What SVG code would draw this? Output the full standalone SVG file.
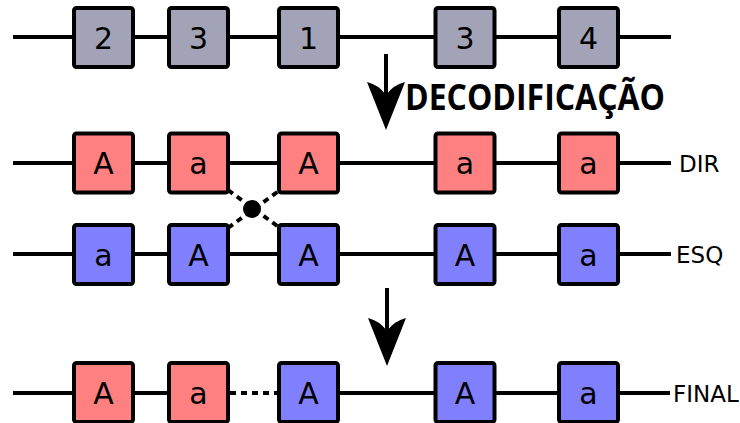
<svg xmlns="http://www.w3.org/2000/svg" width="740" height="423" viewBox="0 0 740 423">
  <style>
    .wire { stroke: #000; stroke-width: 4; fill: none; }
    .dash { stroke: #000; stroke-width: 4; fill: none; stroke-dasharray: 6 5; }
    .box { stroke: #000; stroke-width: 4; }
    .gray { fill: #a3a3b8; }
    .red { fill: #ff8080; }
    .blue { fill: #8080ff; }
    .lbl { font-family: "DejaVu Sans", Verdana, sans-serif; font-size: 30px; fill: #000; text-anchor: middle; }
    .side { font-family: "DejaVu Sans", Verdana, sans-serif; font-size: 23px; fill: #000; }
    .title { font-family: "Open Sans", "Liberation Sans", sans-serif; font-weight: bold; font-size: 35px; fill: #000; }
  </style>
  <defs>
    <rect id="cell" x="-29.5" y="-29.5" width="59" height="59" rx="2.5"/>
    <path id="head" d="M-19,0 Q-7,3 0,13 Q7,3 19,0 L0,48 Z"/>
  </defs>

  <!-- connectors: chromosome lines, crossover and arrows -->
  <g id="connectors">
    <line class="wire" x1="13" y1="37" x2="671" y2="37"/>
    <line class="wire" x1="13" y1="163" x2="671" y2="163"/>
    <line class="wire" x1="13" y1="254" x2="671" y2="254"/>
    <line class="wire" x1="13" y1="393" x2="228" y2="393"/>
    <line class="dash" x1="230" y1="393" x2="279" y2="393"/>
    <line class="wire" x1="279" y1="393" x2="670" y2="393"/>

    <line class="dash" x1="228" y1="190" x2="280" y2="228"/>
    <line class="dash" x1="228" y1="228" x2="280" y2="190"/>
    <circle cx="252" cy="209" r="9" fill="#000"/>

    <line class="wire" x1="386" y1="54" x2="386" y2="100"/>
    <use href="#head" x="386" y="82"/>
    <line class="wire" x1="387" y1="288" x2="387" y2="335"/>
    <use href="#head" x="387" y="318"/>
  </g>

  <!-- encoded chromosome -->
  <g id="n-top-1"><use href="#cell" x="103.5" y="37.5" class="box gray"/><text class="lbl" x="103.5" y="49">2</text></g>
  <g id="n-top-2"><use href="#cell" x="198.5" y="37.5" class="box gray"/><text class="lbl" x="198.5" y="49">3</text></g>
  <g id="n-top-3"><use href="#cell" x="308.5" y="37.5" class="box gray"/><text class="lbl" x="308.5" y="49">1</text></g>
  <g id="n-top-4"><use href="#cell" x="465" y="37.5" class="box gray"/><text class="lbl" x="465" y="49">3</text></g>
  <g id="n-top-5"><use href="#cell" x="588.5" y="37.5" class="box gray"/><text class="lbl" x="588.5" y="49">4</text></g>

  <text class="title" x="405" y="110" textLength="260" lengthAdjust="spacingAndGlyphs">DECODIFICAÇÃO</text>

  <!-- DIR strand -->
  <g id="n-dir-1"><use href="#cell" x="103.5" y="163" class="box red"/><text class="lbl" x="103.5" y="174">A</text></g>
  <g id="n-dir-2"><use href="#cell" x="198.5" y="163" class="box red"/><text class="lbl" x="198.5" y="174">a</text></g>
  <g id="n-dir-3"><use href="#cell" x="308.5" y="163" class="box red"/><text class="lbl" x="308.5" y="174">A</text></g>
  <g id="n-dir-4"><use href="#cell" x="465" y="163" class="box red"/><text class="lbl" x="465" y="174">a</text></g>
  <g id="n-dir-5"><use href="#cell" x="588.5" y="163" class="box red"/><text class="lbl" x="588.5" y="174">a</text></g>
  <text class="side" x="679" y="171.5">DIR</text>

  <!-- ESQ strand -->
  <g id="n-esq-1"><use href="#cell" x="103.5" y="254.5" class="box blue"/><text class="lbl" x="103.5" y="265.5">a</text></g>
  <g id="n-esq-2"><use href="#cell" x="198.5" y="254.5" class="box blue"/><text class="lbl" x="198.5" y="265.5">A</text></g>
  <g id="n-esq-3"><use href="#cell" x="308.5" y="254.5" class="box blue"/><text class="lbl" x="308.5" y="265.5">A</text></g>
  <g id="n-esq-4"><use href="#cell" x="465" y="254.5" class="box blue"/><text class="lbl" x="465" y="265.5">A</text></g>
  <g id="n-esq-5"><use href="#cell" x="588.5" y="254.5" class="box blue"/><text class="lbl" x="588.5" y="265.5">a</text></g>
  <text class="side" x="676" y="262.5">ESQ</text>

  <!-- FINAL strand -->
  <g id="n-fin-1"><use href="#cell" x="103.5" y="392.5" class="box red"/><text class="lbl" x="103.5" y="403.5">A</text></g>
  <g id="n-fin-2"><use href="#cell" x="198.5" y="392.5" class="box red"/><text class="lbl" x="198.5" y="403.5">a</text></g>
  <g id="n-fin-3"><use href="#cell" x="308.5" y="392.5" class="box blue"/><text class="lbl" x="308.5" y="403.5">A</text></g>
  <g id="n-fin-4"><use href="#cell" x="465" y="392.5" class="box blue"/><text class="lbl" x="465" y="403.5">A</text></g>
  <g id="n-fin-5"><use href="#cell" x="588.5" y="392.5" class="box blue"/><text class="lbl" x="588.5" y="403.5">a</text></g>
  <text class="side" x="673" y="401.5">FINAL</text>
</svg>
